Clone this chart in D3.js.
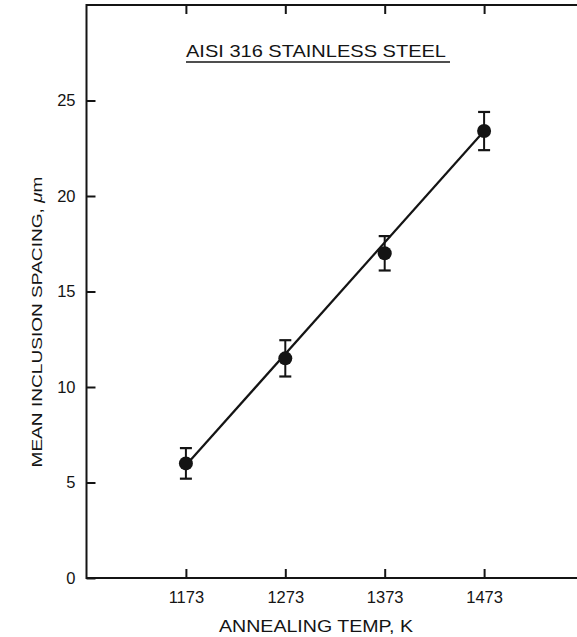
<!DOCTYPE html>
<html>
<head>
<meta charset="utf-8">
<script src="https://cdn.jsdelivr.net/npm/d3@7"></script>
<style>
  html, body { margin: 0; padding: 0; background: #fff; overflow: hidden; }
  svg { display: block; }
  text { font-family: "Liberation Sans", Arial, sans-serif; fill: #141414; }
</style>
</head>
<body>
<svg id="chart" width="577" height="637"></svg>
<script>
// Annealing temperature (K) and measured mean inclusion spacing (µm)
const temps = [1173, 1273, 1373, 1473];
const spacing = [6.0, 11.5, 17.0, 23.4];
const spacingErr = [0.8, 0.95, 0.9, 1.0];

// Straight-line fit through the data
const fitTemps = [1173, 1473];
const fitSpacing = [5.9, 23.4];

const xTicks = [1173, 1273, 1373, 1473];
const yTicks = [0, 5, 10, 15, 20, 25];

const titleText = "AISI 316 STAINLESS STEEL";
const xLabel = "ANNEALING TEMP, K";

const ink = "#141414";
const svg = d3.select("#chart");

const x = d3.scaleLinear().domain([1073, 1573]).range([86.5, 583.5]);
const y = d3.scaleLinear().domain([0, 30]).range([578, 5]);

// Frame: left, top and bottom edges run off the right side of the page
const x0 = x.range()[0];
const xEdge = 640;
const [yb, yt] = y.range();
svg.append("path")
  .attr("d", `M${xEdge},${yt}H${x0}V${yb}H${xEdge}`)
  .attr("fill", "none").attr("stroke", ink).attr("stroke-width", 2);

// Bottom axis (ticks point inward)
const gx = svg.append("g")
  .attr("transform", `translate(0,${yb})`)
  .call(d3.axisBottom(x).tickValues(xTicks).tickFormat(d3.format("d"))
    .tickSizeInner(-9).tickSizeOuter(0).tickPadding(13));
gx.select(".domain").remove();
gx.selectAll(".tick line").attr("stroke", ink).attr("stroke-width", 2);
gx.selectAll(".tick text").attr("font-size", 16.5).attr("fill", ink)
  .attr("font-family", "Liberation Sans, Arial, sans-serif");

// Top axis: ticks only
const gt = svg.append("g")
  .attr("transform", `translate(0,${yt})`)
  .call(d3.axisTop(x).tickValues(xTicks).tickFormat("")
    .tickSizeInner(-9).tickSizeOuter(0));
gt.select(".domain").remove();
gt.selectAll(".tick line").attr("stroke", ink).attr("stroke-width", 2);

// Left axis (ticks point inward)
const gy = svg.append("g")
  .attr("transform", `translate(${x0},0)`)
  .call(d3.axisLeft(y).tickValues(yTicks).tickFormat(d3.format("d"))
    .tickSizeInner(-9).tickSizeOuter(0).tickPadding(11));
gy.select(".domain").remove();
gy.selectAll(".tick line").attr("stroke", ink).attr("stroke-width", 2);
gy.selectAll(".tick text").attr("font-size", 16.5).attr("fill", ink)
  .attr("font-family", "Liberation Sans, Arial, sans-serif");

// Title with underline
svg.append("text")
  .attr("x", 186).attr("y", 57)
  .attr("font-size", 16.5)
  .attr("textLength", 260).attr("lengthAdjust", "spacingAndGlyphs")
  .text(titleText);
svg.append("line")
  .attr("x1", 186).attr("x2", 450).attr("y1", 62).attr("y2", 62)
  .attr("stroke", ink).attr("stroke-width", 1.6);

// Axis titles
svg.append("text")
  .attr("x", 316).attr("y", 632)
  .attr("text-anchor", "middle")
  .attr("font-size", 17)
  .attr("textLength", 194).attr("lengthAdjust", "spacingAndGlyphs")
  .text(xLabel);

const yl = svg.append("text")
  .attr("transform", "translate(42,322) rotate(-90)")
  .attr("text-anchor", "middle")
  .attr("font-size", 15)
  .attr("textLength", 291).attr("lengthAdjust", "spacingAndGlyphs");
yl.append("tspan").text("MEAN INCLUSION SPACING, ");
yl.append("tspan").attr("font-style", "italic").text("\u03bc");
yl.append("tspan").text("m");

// Fit line
const line = d3.line().x(d => x(d[0])).y(d => y(d[1]));
svg.append("path")
  .datum(fitTemps.map((t, i) => [t, fitSpacing[i]]))
  .attr("d", line)
  .attr("fill", "none").attr("stroke", ink).attr("stroke-width", 2.2);

// Data points with error bars
const pts = temps.map((t, i) => ({ t, v: spacing[i], e: spacingErr[i] }));
const g = svg.append("g").selectAll("g").data(pts).join("g");
g.append("line")
  .attr("x1", d => x(d.t)).attr("x2", d => x(d.t))
  .attr("y1", d => y(d.v + d.e)).attr("y2", d => y(d.v - d.e))
  .attr("stroke", ink).attr("stroke-width", 2);
g.selectAll(".cap").data(d => [d.v + d.e, d.v - d.e].map(v => ({ t: d.t, v })))
  .join("line").attr("class", "cap")
  .attr("x1", d => x(d.t) - 6).attr("x2", d => x(d.t) + 6)
  .attr("y1", d => y(d.v)).attr("y2", d => y(d.v))
  .attr("stroke", ink).attr("stroke-width", 2.2);
g.append("circle")
  .attr("cx", d => x(d.t)).attr("cy", d => y(d.v))
  .attr("r", 7).attr("fill", ink);
</script>
</body>
</html>
